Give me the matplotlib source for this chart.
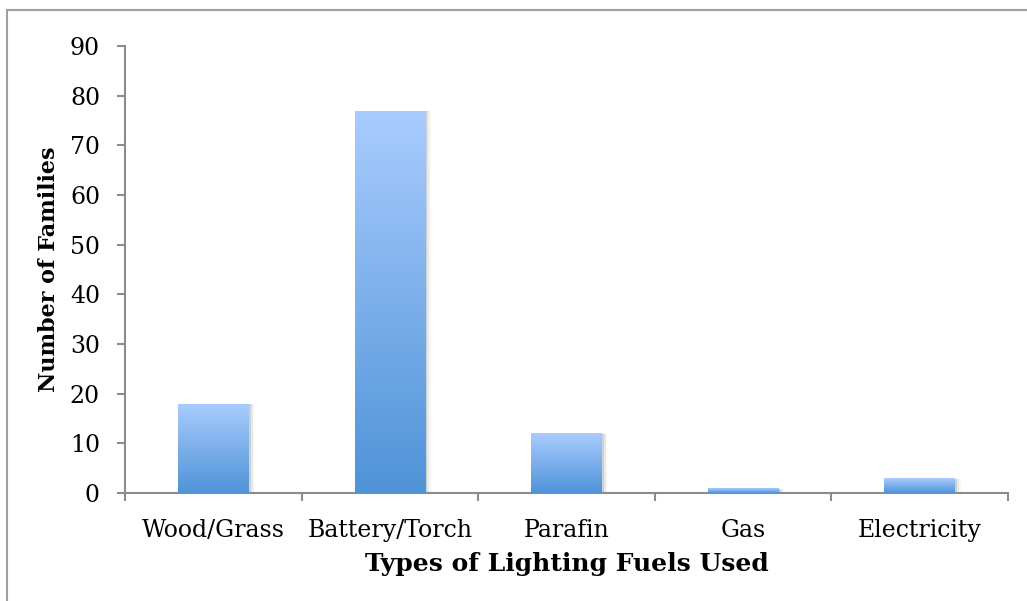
import numpy as np
import matplotlib
matplotlib.use("Agg")
import matplotlib.pyplot as plt
from matplotlib.colors import LinearSegmentedColormap
from matplotlib.lines import Line2D

categories = ["Wood/Grass", "Battery/Torch", "Parafin", "Gas", "Electricity"]
families = [18, 77, 12, 1, 3]
y_ticks = [0, 10, 20, 30, 40, 50, 60, 70, 80, 90]

plt.rcParams["font.family"] = "DejaVu Serif"

fig = plt.figure(figsize=(10.27, 6.01), dpi=100)
ax = fig.add_axes([125 / 1027, 1 - 493 / 601, 883 / 1027, 447 / 601])

x = np.arange(len(categories))
bars = ax.bar(x, families, width=0.4, color="none", edgecolor="none", zorder=3)

# gradient fill, light on top, darker at the base
cmap = LinearSegmentedColormap.from_list("bar", ["#4f93d8", "#a9ccfe"])
grad = np.linspace(0, 1, 256).reshape(-1, 1)
for b in bars:
    x0, w, h = b.get_x(), b.get_width(), b.get_height()
    # soft shadow
    for k, a in [(0.012, 0.10), (0.022, 0.06), (0.032, 0.03)]:
        ax.bar(x0 + w / 2 + k, h - 0.15, width=w, color="#000000",
               alpha=a, edgecolor="none", zorder=2)
    im = ax.imshow(grad, cmap=cmap, aspect="auto", origin="lower",
                   extent=(x0, x0 + w, 0, h), zorder=4)
    im.set_clip_path(b)

ax.set_xlim(-0.5, len(categories) - 0.5)
ax.set_ylim(0, 90)
ax.set_yticks(y_ticks)
ax.set_xticks(x)
ax.set_xticklabels(categories)
ax.set_xticks(np.arange(len(categories) + 1) - 0.5, minor=True)

for s in ["top", "right"]:
    ax.spines[s].set_visible(False)
for s in ["left", "bottom"]:
    ax.spines[s].set_color("#8c8c8c")
    ax.spines[s].set_linewidth(1.5)

ax.tick_params(axis="y", length=6, width=1.5, color="#8c8c8c", labelsize=17, pad=12)
ax.tick_params(axis="x", which="major", length=0, labelsize=17, pad=19)
ax.tick_params(axis="x", which="minor", length=6, width=1.5, color="#8c8c8c")

ax.set_ylabel("Number of Families", fontsize=16, fontweight="bold")
ax.yaxis.set_label_coords(-0.074, 0.5)
ax.set_xlabel("Types of Lighting Fuels Used", fontsize=18, fontweight="bold", labelpad=7)

# outer chart frame (top and left edges)
fig.add_artist(Line2D([7 / 1027, 7 / 1027], [0, 1 - 10 / 601], color="#a0a0a0", lw=1.5))
fig.add_artist(Line2D([7 / 1027, 1], [1 - 10 / 601, 1 - 10 / 601], color="#a0a0a0", lw=1.5))

fig.savefig("out.png", dpi=100)
